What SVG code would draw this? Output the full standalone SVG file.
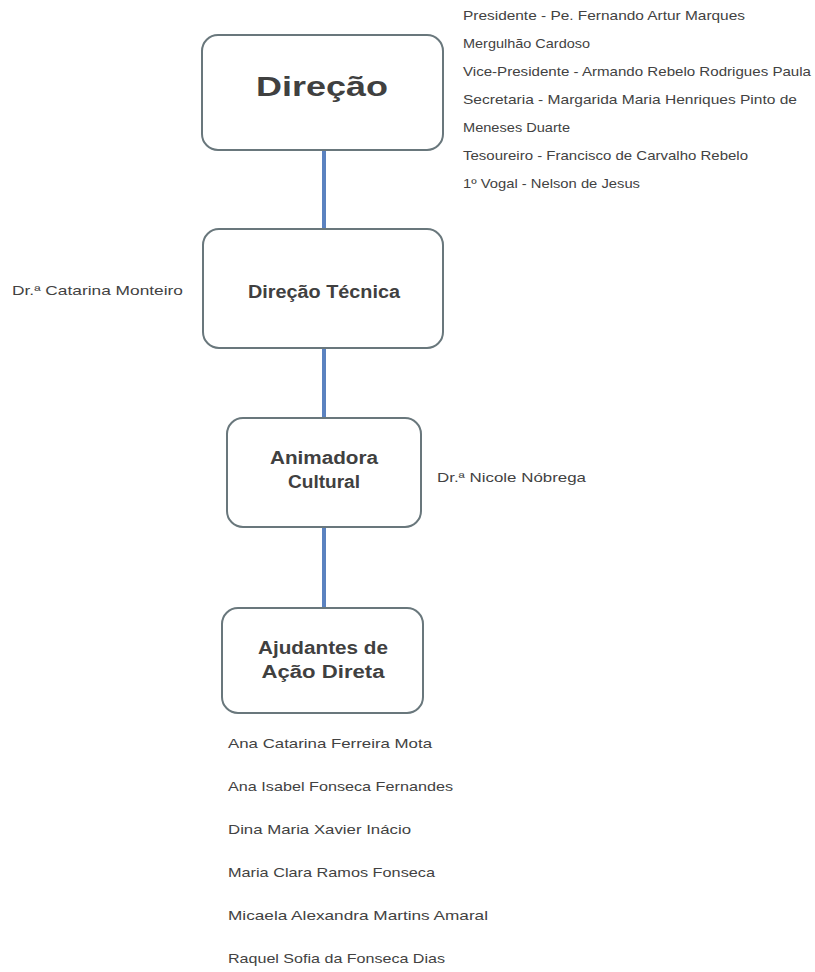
<svg xmlns="http://www.w3.org/2000/svg" width="815" height="972" viewBox="0 0 815 972">
<style>
.box{fill:#ffffff;stroke:#69777c;stroke-width:2}
.title{font-family:"Liberation Sans",Arial,sans-serif;font-weight:bold;fill:#404040;text-anchor:middle}
.lbl{font-family:"Liberation Sans",Arial,sans-serif;font-size:13.5px;fill:#424242}
.conn{stroke:#5b82c0;stroke-width:4;fill:none}
</style>
<rect width="815" height="972" fill="#ffffff"/>
<g id="connectors">
<line class="conn" x1="324" y1="150" x2="324" y2="229"/>
<line class="conn" x1="324" y1="348" x2="324" y2="418"/>
<line class="conn" x1="324" y1="527" x2="324" y2="608"/>
</g>
<g id="direcao">
<rect class="box" x="202" y="35" width="241" height="115" rx="16"/>
<text class="title" x="322" y="96" font-size="27" textLength="132" lengthAdjust="spacingAndGlyphs">Direção</text>
</g>
<g id="direcao-tecnica">
<rect class="box" x="203" y="229" width="240" height="119" rx="16"/>
<text class="title" x="324" y="298" font-size="17.5" textLength="152" lengthAdjust="spacingAndGlyphs">Direção Técnica</text>
</g>
<g id="animadora">
<rect class="box" x="227" y="418" width="194" height="109" rx="16"/>
<text class="title" x="324" y="464" font-size="17.5" textLength="108" lengthAdjust="spacingAndGlyphs">Animadora</text>
<text class="title" x="324" y="488" font-size="17.5" textLength="72" lengthAdjust="spacingAndGlyphs">Cultural</text>
</g>
<g id="ajudantes">
<rect class="box" x="222" y="608" width="201" height="105" rx="16"/>
<text class="title" x="323" y="654" font-size="17.5" textLength="130" lengthAdjust="spacingAndGlyphs">Ajudantes de</text>
<text class="title" x="323" y="678" font-size="17.5" textLength="123" lengthAdjust="spacingAndGlyphs">Ação Direta</text>
</g>
<g id="direcao-members">
<text class="lbl" x="463" y="20" textLength="282" lengthAdjust="spacingAndGlyphs">Presidente - Pe. Fernando Artur Marques</text>
<text class="lbl" x="463" y="48" textLength="127" lengthAdjust="spacingAndGlyphs">Mergulhão Cardoso</text>
<text class="lbl" x="463" y="76" textLength="348" lengthAdjust="spacingAndGlyphs">Vice-Presidente - Armando Rebelo Rodrigues Paula</text>
<text class="lbl" x="463" y="104" textLength="334" lengthAdjust="spacingAndGlyphs">Secretaria - Margarida Maria Henriques Pinto de</text>
<text class="lbl" x="463" y="132" textLength="107" lengthAdjust="spacingAndGlyphs">Meneses Duarte</text>
<text class="lbl" x="463" y="160" textLength="285" lengthAdjust="spacingAndGlyphs">Tesoureiro - Francisco de Carvalho Rebelo</text>
<text class="lbl" x="463" y="188" textLength="177" lengthAdjust="spacingAndGlyphs">1º Vogal - Nelson de Jesus</text>
</g>
<g id="tecnica-label">
<text class="lbl" x="12" y="295" textLength="171" lengthAdjust="spacingAndGlyphs">Dr.ª Catarina Monteiro</text>
</g>
<g id="animadora-label">
<text class="lbl" x="437" y="482" textLength="149" lengthAdjust="spacingAndGlyphs">Dr.ª Nicole Nóbrega</text>
</g>
<g id="ajudantes-members">
<text class="lbl" x="228" y="748" textLength="204" lengthAdjust="spacingAndGlyphs">Ana Catarina Ferreira Mota</text>
<text class="lbl" x="228" y="791" textLength="225" lengthAdjust="spacingAndGlyphs">Ana Isabel Fonseca Fernandes</text>
<text class="lbl" x="228" y="834" textLength="183" lengthAdjust="spacingAndGlyphs">Dina Maria Xavier Inácio</text>
<text class="lbl" x="228" y="877" textLength="207" lengthAdjust="spacingAndGlyphs">Maria Clara Ramos Fonseca</text>
<text class="lbl" x="228" y="920" textLength="260" lengthAdjust="spacingAndGlyphs">Micaela Alexandra Martins Amaral</text>
<text class="lbl" x="228" y="963" textLength="217" lengthAdjust="spacingAndGlyphs">Raquel Sofia da Fonseca Dias</text>
</g>
</svg>
